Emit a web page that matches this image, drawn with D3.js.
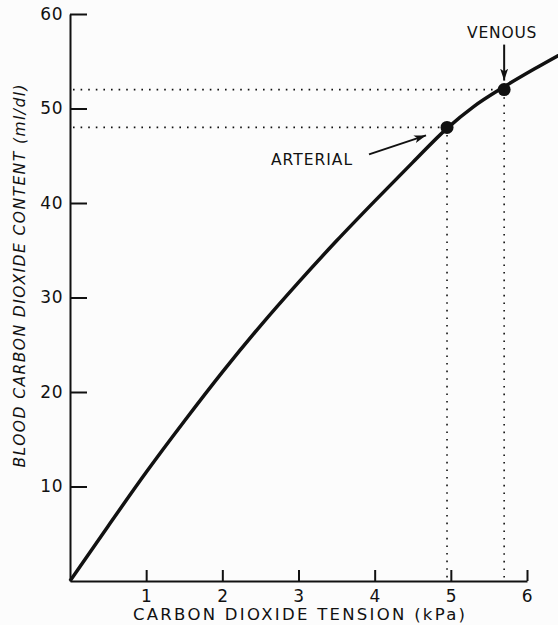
<!DOCTYPE html>
<html>
<head>
<meta charset="utf-8">
<script src="https://cdn.jsdelivr.net/npm/d3@7"></script>
<style>
  body { margin: 0; background: #fcfcfc; }
  text { font-family: "DejaVu Sans", sans-serif; fill: #111; }
</style>
</head>
<body>
<div id="main"></div>
<script>
// curve (kPa, ml/dl)
var tension = [0, 0.5, 1, 1.5, 2, 2.5, 3, 3.5, 4, 4.5, 4.95, 5.3, 5.7, 6.1, 6.5];
var content = [0, 5.8, 11.5, 16.9, 22.1, 27.0, 31.6, 36.0, 40.2, 44.3, 47.9, 50.2, 52.3, 54.2, 56.0];

// marked points
var pointNames = ["ARTERIAL", "VENOUS"];
var pointTension = [4.95, 5.7];
var pointContent = [48, 52];

var xTicks = [1, 2, 3, 4, 5, 6];
var yTicks = [10, 20, 30, 40, 50, 60];

var w = 558, h = 625;

var svg = d3.select("#main")
  .append("svg")
    .attr("width", w)
    .attr("height", h);

svg.append("rect")
  .attr("width", w)
  .attr("height", h)
  .attr("fill", "#fcfcfc");

var x = d3.scaleLinear().domain([0, 6]).range([70, 527]);
var y = d3.scaleLinear().domain([0, 60]).range([581, 14]);

// x axis, ticks point up into the plot
svg.append("g")
  .attr("transform", "translate(0," + y(0) + ")")
  .call(d3.axisBottom(x)
    .tickValues(xTicks)
    .tickFormat(d3.format("d"))
    .tickSizeInner(-11)
    .tickSizeOuter(0)
    .tickPadding(9));

// y axis, ticks point right
svg.append("g")
  .attr("transform", "translate(" + x(0) + ",0)")
  .call(d3.axisLeft(y)
    .tickValues(yTicks)
    .tickFormat(d3.format("d"))
    .tickSizeInner(-17)
    .tickSizeOuter(0)
    .tickPadding(7));

svg.selectAll(".domain, .tick line")
  .attr("stroke", "#111")
  .attr("stroke-width", 2);
svg.selectAll(".tick text")
  .attr("font-family", "DejaVu Sans")
  .attr("font-size", 17)
  .attr("letter-spacing", 0.5)
  .attr("fill", "#111");

// axis titles
svg.append("text")
  .attr("x", 299)
  .attr("y", 620)
  .attr("text-anchor", "middle")
  .attr("font-size", 16.5)
  .attr("textLength", 332)
  .attr("lengthAdjust", "spacing")
  .text("CARBON DIOXIDE TENSION (kPa)");

svg.append("text")
  .attr("transform", "translate(25,276) rotate(-90)")
  .attr("text-anchor", "middle")
  .attr("font-size", 15.5)
  .attr("font-style", "italic")
  .attr("textLength", 383)
  .attr("lengthAdjust", "spacing")
  .text("BLOOD CARBON DIOXIDE CONTENT (ml/dl)");

// dotted guide lines
var pts = pointNames.map(function(d, i) {
  return {name: d, t: pointTension[i], c: pointContent[i]};
});

pts.forEach(function(p) {
  svg.append("line")
    .attr("x1", x(0) + 3).attr("x2", x(p.t))
    .attr("y1", y(p.c)).attr("y2", y(p.c))
    .attr("stroke", "#111")
    .attr("stroke-width", 1.6)
    .attr("stroke-dasharray", "1.6,6");
  svg.append("line")
    .attr("x1", x(p.t)).attr("x2", x(p.t))
    .attr("y1", y(p.c)).attr("y2", y(0) - 2)
    .attr("stroke", "#111")
    .attr("stroke-width", 1.6)
    .attr("stroke-dasharray", "1.6,6");
});

// the curve
var line = d3.line()
  .x(function(d) { return x(d[0]); })
  .y(function(d) { return y(d[1]); })
  .curve(d3.curveMonotoneX);

svg.append("path")
  .datum(d3.zip(tension, content))
  .attr("d", line)
  .attr("fill", "none")
  .attr("stroke", "#111")
  .attr("stroke-width", 3.5);

svg.selectAll("circle.pt")
  .data(pts)
  .enter().append("circle")
    .attr("class", "pt")
    .attr("cx", function(d) { return x(d.t); })
    .attr("cy", function(d) { return y(d.c); })
    .attr("r", 6.5)
    .attr("fill", "#111");

// arrows
svg.append("defs").append("marker")
  .attr("id", "head")
  .attr("viewBox", "0 0 12 8")
  .attr("refX", 12)
  .attr("refY", 4)
  .attr("markerWidth", 12)
  .attr("markerHeight", 8)
  .attr("markerUnits", "userSpaceOnUse")
  .attr("orient", "auto")
  .append("path")
    .attr("d", "M0,0L12,4L0,8L3,4Z")
    .attr("fill", "#111");

var art = pts[0], ven = pts[1];

svg.append("line")
  .attr("x1", x(art.t) - 78).attr("y1", y(art.c) + 27)
  .attr("x2", x(art.t) - 21).attr("y2", y(art.c) + 8)
  .attr("stroke", "#111")
  .attr("stroke-width", 2)
  .attr("marker-end", "url(#head)");

svg.append("text")
  .attr("x", x(art.t) - 176)
  .attr("y", y(art.c) + 38)
  .attr("font-size", 15.5)
  .attr("letter-spacing", 1)
  .text(art.name);

svg.append("line")
  .attr("x1", x(ven.t)).attr("y1", y(ven.c) - 45)
  .attr("x2", x(ven.t)).attr("y2", y(ven.c) - 9)
  .attr("stroke", "#111")
  .attr("stroke-width", 2)
  .attr("marker-end", "url(#head)");

svg.append("text")
  .attr("x", x(ven.t) - 2)
  .attr("y", y(ven.c) - 52)
  .attr("text-anchor", "middle")
  .attr("font-size", 15.5)
  .attr("letter-spacing", 0.8)
  .text(ven.name);
</script>
</body>
</html>
